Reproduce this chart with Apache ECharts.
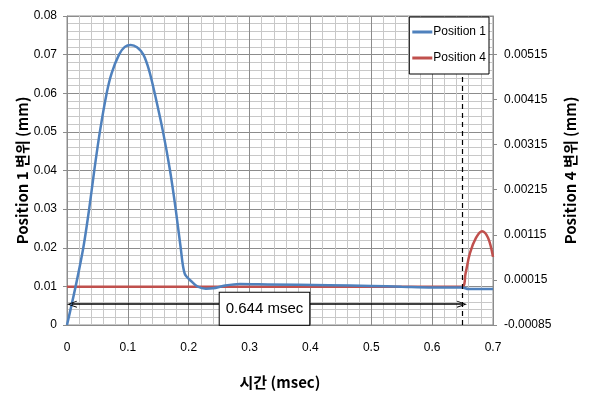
<!DOCTYPE html>
<html>
<head>
<meta charset="utf-8">
<script src="https://cdn.jsdelivr.net/npm/echarts@6/dist/echarts.min.js"></script>
<style>
  html, body { margin: 0; padding: 0; background: #fff; }
  #chart { width: 591px; height: 396px; }
</style>
</head>
<body>
<div id="chart"></div>
<script>
// Position 1 (left axis, mm)
const p1Time = [0, 0.0142, 0.0268, 0.0364, 0.0448, 0.0540, 0.0652, 0.0734, 0.0855, 0.095, 0.1047, 0.115, 0.1255, 0.1348, 0.1441, 0.1578, 0.1693, 0.1786, 0.1868, 0.1934, 0.205, 0.214, 0.228, 0.24, 0.26, 0.284, 0.33, 0.43, 0.5, 0.55, 0.6, 0.649, 0.66, 0.7];
const p1Disp = [0, 0.010, 0.020, 0.030, 0.040, 0.050, 0.060, 0.0652, 0.070, 0.0720, 0.0725, 0.0719, 0.070, 0.066, 0.060, 0.050, 0.040, 0.030, 0.020, 0.0133, 0.0112, 0.0100, 0.0094, 0.0095, 0.0102, 0.0106, 0.0105, 0.0103, 0.0101, 0.0099, 0.0097, 0.0097, 0.0093, 0.0093];

// Position 4 (right axis, mm)
const p4Time = [0, 0.3, 0.649, 0.655, 0.662, 0.672, 0.682, 0.692, 0.7];
const p4Disp = [0, 0, 0, 0.0003, 0.00074, 0.00108, 0.00123, 0.00108, 0.00066];

// right axis starts at -0.00085, ticks every 0.001
const rightMin = -0.00085;
const rightStep = 0.001;
const rightSpan = 0.00685;

// annotation: arrow between the two events, dashed marker
const arrowFrom = 0.008;
const arrowTo = 0.649;
const arrowLevel = 0.0054;
const markerTop = 0.0645;
const spanText = "0.644 msec";

const tickFont = "'Liberation Sans', Arial, sans-serif";
const titleFont = "'Noto Sans CJK KR', 'Liberation Sans', sans-serif";

const chart = echarts.init(document.getElementById("chart"), null, { renderer: "canvas" });

const chevron = "path://M0,10 L5,0 L10,10 L8.6,10 L5,2.8 L1.4,10 Z";

const option = {
  animation: false,
  backgroundColor: "#fff",
  grid: {
    left: 67, right: 98, top: 16, bottom: 71,
    show: true, borderColor: "#8c8c8c", borderWidth: 1
  },
  legend: {
    orient: "vertical",
    right: 102,
    top: 17,
    backgroundColor: "#fff",
    borderColor: "#000",
    borderWidth: 1,
    borderRadius: 0,
    padding: [9, 3, 10, 3],
    itemGap: 14,
    itemWidth: 20,
    itemHeight: 3,
    icon: "rect",
    textStyle: { fontFamily: tickFont, fontSize: 12, color: "#000", padding: [0, 0, 0, -4] },
    data: ["Position 1", "Position 4"]
  },
  xAxis: {
    type: "value",
    min: 0,
    max: 0.7,
    interval: 0.1,
    name: "시간 (msec)",
    nameLocation: "middle",
    nameGap: 50,
    nameTextStyle: { fontFamily: titleFont, fontSize: 15, fontWeight: "bold", color: "#000" },
    axisLine: { lineStyle: { color: "#8c8c8c" } },
    axisTick: { show: false },
    axisLabel: { color: "#000", fontFamily: tickFont, fontSize: 12, margin: 17 },
    splitLine: { lineStyle: { color: "#8c8c8c", width: 1 } },
    minorTick: { show: false, splitNumber: 5 },
    minorSplitLine: { show: true, lineStyle: { color: "#c8c8c8", width: 1 } }
  },
  yAxis: [
    {
      type: "value",
      min: 0,
      max: 0.08,
      interval: 0.01,
      name: "Position 1 변위 (mm)",
      nameLocation: "middle",
      nameRotate: 90,
      nameGap: 37,
      nameMoveOverlap: false,
      nameTextStyle: { fontFamily: titleFont, fontSize: 15, fontWeight: "bold", color: "#000" },
      axisLine: { show: true, lineStyle: { color: "#8c8c8c" } },
      axisTick: { show: true, length: 4, lineStyle: { color: "#8c8c8c" } },
      axisLabel: { color: "#000", fontFamily: tickFont, fontSize: 12, margin: 10 },
      splitLine: { lineStyle: { color: "#8c8c8c", width: 1 } },
      minorTick: { show: false, splitNumber: 5 },
      minorSplitLine: { show: true, lineStyle: { color: "#c8c8c8", width: 1 } }
    },
    {
      type: "value",
      position: "right",
      min: 0,
      max: rightSpan,
      interval: rightStep,
      name: "Position 4 변위 (mm)",
      nameLocation: "middle",
      nameRotate: 90,
      nameGap: 70,
      nameTextStyle: { fontFamily: titleFont, fontSize: 15, fontWeight: "bold", color: "#000" },
      axisLine: { show: true, lineStyle: { color: "#8c8c8c" } },
      axisTick: { show: true, length: 4, lineStyle: { color: "#8c8c8c" } },
      axisLabel: {
        color: "#000", fontFamily: tickFont, fontSize: 12, margin: 11,
        showMaxLabel: false,
        formatter: (v) => (v + rightMin).toFixed(5)
      },
      splitLine: { show: false }
    }
  ],
  series: [
    {
      name: "Position 1",
      type: "line",
      yAxisIndex: 0,
      showSymbol: false,
      smooth: 0.3,
      lineStyle: { color: "#4f81bd", width: 2.5 },
      itemStyle: { color: "#4f81bd" },
      data: p1Time.map((t, i) => [t, p1Disp[i]]),
      markLine: {
        silent: true,
        symbol: "none",
        label: { show: false },
        lineStyle: { color: "#000", type: [5, 4], width: 1.2 },
        data: [[{ coord: [arrowTo, 0] }, { coord: [arrowTo, markerTop] }]]
      },
      z: 3
    },
    {
      name: "Position 4",
      type: "line",
      yAxisIndex: 1,
      showSymbol: false,
      smooth: 0.35,
      lineStyle: { color: "#c0504d", width: 2.5 },
      itemStyle: { color: "#c0504d" },
      data: p4Time.map((t, i) => [t, p4Disp[i] - rightMin]),
      z: 2
    },
    {
      name: "span",
      type: "line",
      yAxisIndex: 0,
      data: [],
      markLine: {
        silent: true,
        symbol: [chevron, chevron],
        symbolSize: [7, 10],
        label: { show: false },
        lineStyle: { color: "#000", type: "solid", width: 1.5 },
        data: [[{ coord: [arrowFrom, arrowLevel] }, { coord: [arrowTo, arrowLevel] }]]
      },
      markPoint: {
        silent: true,
        symbol: "rect",
        symbolSize: 0,
        label: {
          show: true,
          position: "inside",
          formatter: spanText,
          color: "#000",
          fontFamily: "'Liberation Sans', Arial, sans-serif",
          fontSize: 15,
          backgroundColor: "#fff",
          borderColor: "#000",
          borderWidth: 1,
          padding: [9, 6, 8, 6]
        },
        data: [{ coord: [(arrowFrom + arrowTo) / 2 - 0.004, 0.0042] }]
      },
      z: 4
    }
  ]
};

chart.setOption(option);
</script>
</body>
</html>
